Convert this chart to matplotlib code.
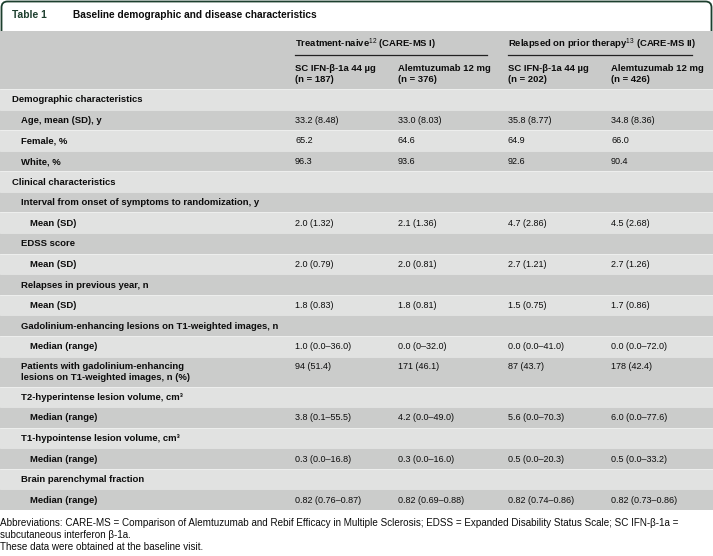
import matplotlib
matplotlib.use("Agg")
import matplotlib.pyplot as plt
from matplotlib.path import Path
from matplotlib.patches import PathPatch, Rectangle

plt.rcParams['font.family'] = ['Liberation Sans', 'DejaVu Sans']
plt.rcParams['mathtext.fontset'] = 'custom'
plt.rcParams['mathtext.rm'] = 'Liberation Sans'
plt.rcParams['mathtext.bf'] = 'Liberation Sans:bold'

# ---------------- data ----------------
title_tag = "Table 1"
title_text = "Baseline demographic and disease characteristics"

group_headers = ["Treatment-naive$^{12}$ (CARE-MS I)",
                 "Relapsed on prior therapy$^{13}$ (CARE-MS II)"]
col_headers = ["SC IFN-β-1a 44 µg\n(n = 187)", "Alemtuzumab 12 mg\n(n = 376)",
               "SC IFN-β-1a 44 µg\n(n = 202)", "Alemtuzumab 12 mg\n(n = 426)"]

row_labels = ["Demographic characteristics", "Age, mean (SD), y", "Female, %", "White, %",
              "Clinical characteristics",
              "Interval from onset of symptoms to randomization, y", "Mean (SD)",
              "EDSS score", "Mean (SD)",
              "Relapses in previous year, n", "Mean (SD)",
              "Gadolinium-enhancing lesions on T1-weighted images, n", "Median (range)",
              "Patients with gadolinium-enhancing\nlesions on T1-weighted images, n (%)",
              "T2-hyperintense lesion volume, cm³", "Median (range)",
              "T1-hypointense lesion volume, cm³", "Median (range)",
              "Brain parenchymal fraction", "Median (range)"]
row_levels = [0, 1, 1, 1, 0, 1, 2, 1, 2, 1, 2, 1, 2, 1, 1, 2, 1, 2, 1, 2]
row_lines = [1, 1, 1, 1, 1, 1, 1, 1, 1, 1, 1, 1, 1, 2, 1, 1, 1, 1, 1, 1]

col1 = ["", "33.2 (8.48)", "65.2", "96.3", "", "", "2.0 (1.32)", "", "2.0 (0.79)", "",
        "1.8 (0.83)", "", "1.0 (0.0–36.0)", "94 (51.4)", "", "3.8 (0.1–55.5)", "",
        "0.3 (0.0–16.8)", "", "0.82 (0.76–0.87)"]
col2 = ["", "33.0 (8.03)", "64.6", "93.6", "", "", "2.1 (1.36)", "", "2.0 (0.81)", "",
        "1.8 (0.81)", "", "0.0 (0–32.0)", "171 (46.1)", "", "4.2 (0.0–49.0)", "",
        "0.3 (0.0–16.0)", "", "0.82 (0.69–0.88)"]
col3 = ["", "35.8 (8.77)", "64.9", "92.6", "", "", "4.7 (2.86)", "", "2.7 (1.21)", "",
        "1.5 (0.75)", "", "0.0 (0.0–41.0)", "87 (43.7)", "", "5.6 (0.0–70.3)", "",
        "0.5 (0.0–20.3)", "", "0.82 (0.74–0.86)"]
col4 = ["", "34.8 (8.36)", "66.0", "90.4", "", "", "4.5 (2.68)", "", "2.7 (1.26)", "",
        "1.7 (0.86)", "", "0.0 (0.0–72.0)", "178 (42.4)", "", "6.0 (0.0–77.6)", "",
        "0.5 (0.0–33.2)", "", "0.82 (0.73–0.86)"]

footnotes = ["Abbreviations: CARE-MS = Comparison of Alemtuzumab and Rebif Efficacy in Multiple Sclerosis; EDSS = Expanded Disability Status Scale; SC IFN-β-1a =",
             "subcutaneous interferon β-1a.",
             "These data were obtained at the baseline visit."]

# ---------------- layout ----------------
W, H = 713, 556
fig = plt.figure(figsize=(W / 100, H / 100), dpi=100)
ax = fig.add_axes([0, 0, 1, 1])
ax.set_xlim(0, W)
ax.set_ylim(H, 0)
ax.axis('off')

green = '#1d3f2e'
hdr_grey = '#c9cac9'
light = '#e1e2e1'
dark = '#cbcccb'
ink = '#0c0c0c'
fs = 6.8
fs_val = 6.5

# title frame
r = 6
verts = [(1.5, 31), (1.5, 1.5 + r), (1.5, 1.5), (1.5 + r, 1.5),
         (711.5 - r, 1.5), (711.5, 1.5), (711.5, 1.5 + r), (711.5, 31)]
codes = [Path.MOVETO, Path.LINETO, Path.CURVE3, Path.CURVE3,
         Path.LINETO, Path.CURVE3, Path.CURVE3, Path.LINETO]
ax.add_patch(PathPatch(Path(verts, codes), fill=False, edgecolor=green, lw=1.3))
ax.text(12, 15.5, title_tag, fontsize=7.4, fontweight='bold', color=green, va='center')
ax.text(73, 15.5, title_text, fontsize=7.3, fontweight='bold', color=ink, va='center')

# header
ax.add_patch(Rectangle((0, 31), W, 58, facecolor=hdr_grey, edgecolor='none'))
col_x = [295, 398, 508, 611]
group_x = [(295, 487), (508, 692)]
for (x0, x1), g in zip(group_x, group_headers):
    ax.text(x0, 44, g, fontsize=fs, fontweight='bold', va='center', color=ink)
    ax.plot([x0, x1], [54.5, 54.5], color='#222222', lw=0.9)
for x, h in zip(col_x, col_headers):
    ax.text(x, 74, h, fontsize=fs, fontweight='bold', va='center', color=ink,
            linespacing=1.2)

# body
y = 89.0
unit = 20.58
indent = [12, 21, 30]
cols = [col1, col2, col3, col4]
for i, lab in enumerate(row_labels):
    h = 30.0 if row_lines[i] == 2 else unit
    ax.add_patch(Rectangle((0, y), W, h, facecolor=(light if i % 2 == 0 else dark),
                           edgecolor='none'))
    ax.plot([0, W], [y, y], color='white', lw=0.5, alpha=0.6)
    if row_lines[i] == 2:
        ty = y + 10
        ax.text(indent[row_levels[i]], y + h / 2 + 0.5, lab, fontsize=fs, fontweight='bold',
                va='center', color=ink, linespacing=1.25)
    else:
        ty = y + h / 2 + 0.5
        ax.text(indent[row_levels[i]], ty, lab, fontsize=fs, fontweight='bold',
                va='center', color=ink)
    for x, c in zip(col_x, cols):
        if c[i]:
            ax.text(x, ty, c[i], fontsize=fs_val, va='center', color=ink)
    y += h

# footnotes
for k, t in enumerate(footnotes):
    ax.text(0.5, 523.5 + k * 11.5, t, fontsize=7.15, va='center', color=ink)

fig.savefig('out.png', dpi=100)
